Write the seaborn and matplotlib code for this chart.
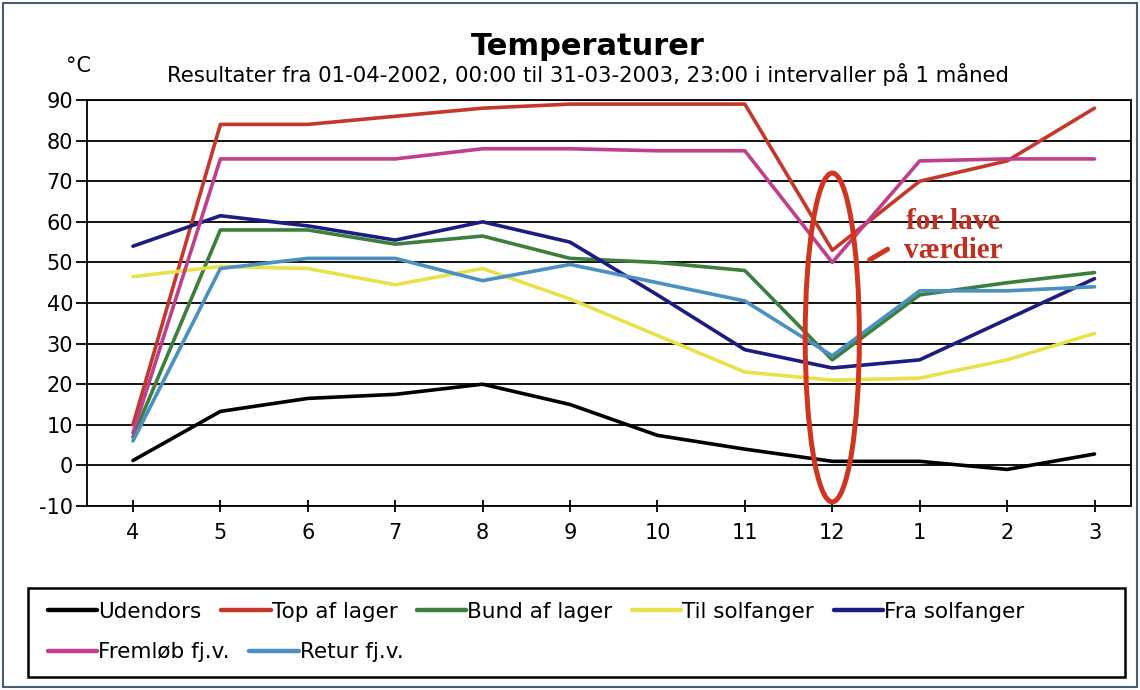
import numpy as np
import pandas as pd
import matplotlib
matplotlib.use("Agg")
import matplotlib.pyplot as plt
from matplotlib.patches import Ellipse, Rectangle
import seaborn as sns

months = ["4", "5", "6", "7", "8", "9", "10", "11", "12", "1", "2", "3"]
udendors = [1.2, 13.3, 16.5, 17.5, 20.0, 15.0, 7.4, 4.0, 1.0, 1.0, -1.0, 2.8]
top_af_lager = [10, 84, 84, 86, 88, 89, 89, 89, 53, 70, 75, 88]
bund_af_lager = [7, 58, 58, 54.5, 56.5, 51, 50, 48, 26, 42, 45, 47.5]
til_solfanger = [46.5, 49, 48.5, 44.5, 48.5, 41, 32, 23, 21, 21.5, 26, 32.5]
fra_solfanger = [54, 61.5, 59, 55.5, 60, 55, 42, 28.5, 24, 26, 36, 46]
fremlob = [8, 75.5, 75.5, 75.5, 78, 78, 77.5, 77.5, 50, 75, 75.5, 75.5]
retur = [6, 48.5, 51, 51, 45.5, 49.5, 45, 40.5, 27, 43, 43, 44]

series_names = ["Udendors", "Top af lager", "Bund af lager", "Til solfanger",
                "Fra solfanger", "Fremløb fj.v.", "Retur fj.v."]
series_vals = [udendors, top_af_lager, bund_af_lager, til_solfanger,
               fra_solfanger, fremlob, retur]
colors = ["#000000", "#c5372b", "#3c7f3c", "#e8e24a", "#1c1c82", "#bf3f8a", "#4a90c0"]

rows = []
for name, vals in zip(series_names, series_vals):
    for i, v in enumerate(vals):
        rows.append({"idx": i, "Temperatur": v, "Serie": name})
df = pd.DataFrame(rows)

sns.set_theme(style="white")
plt.rcParams["font.family"] = ["DejaVu Sans"]
plt.rcParams["axes.unicode_minus"] = False
plt.rcParams["text.color"] = "black"
plt.rcParams["xtick.color"] = "black"
plt.rcParams["ytick.color"] = "black"
plt.rcParams["xtick.labelcolor"] = "black"
plt.rcParams["ytick.labelcolor"] = "black"

fig = plt.figure(figsize=(11.4, 6.9), dpi=100)
ax = fig.add_axes([0.0763, 0.2667, 0.916, 0.5883])

sns.lineplot(data=df, x="idx", y="Temperatur", hue="Serie",
             hue_order=series_names, palette=dict(zip(series_names, colors)),
             linewidth=2.6, ax=ax, legend=True, sort=False)

ax.set_xlim(-0.526, 11.42)
ax.set_ylim(-10, 90)
ax.set_yticks(np.arange(-10, 91, 10))
ax.set_xticks(range(len(months)))
ax.set_xticklabels(months)
ax.tick_params(axis="y", labelsize=15, length=8, direction="out",
               color="black", labelcolor="black", width=1.3, left=True, pad=2)
ax.tick_params(axis="x", labelsize=15, length=9, direction="inout",
               color="black", labelcolor="black", width=1.3, bottom=True, pad=8)
ax.yaxis.grid(True, color="black", linewidth=1.3)
ax.xaxis.grid(False)
ax.set_axisbelow(True)
for s in ax.spines.values():
    s.set_color("black")
    s.set_linewidth(1.3)
ax.set_xlabel("")
ax.set_ylabel("")

# Legend (two flowing rows)
handles, labels = ax.get_legend_handles_labels()
ax.legend_.remove()
leg_kw = dict(frameon=False, fontsize=15.5, handlelength=2.3, handletextpad=0.05,
              columnspacing=0.9, borderpad=0, borderaxespad=0, loc="center left",
              labelcolor="black")
leg1 = fig.legend(handles[:5], labels[:5], ncol=5,
                  bbox_to_anchor=(0.042, 0.113), **leg_kw)
leg2 = fig.legend(handles[5:], labels[5:], ncol=2,
                  bbox_to_anchor=(0.042, 0.055), **leg_kw)
for lg in (leg1, leg2):
    for h in lg.legend_handles:
        h.set_linewidth(3.2)
fig.patches.append(Rectangle((0.0245, 0.019), 0.962, 0.129, transform=fig.transFigure,
                             fill=False, edgecolor="black", linewidth=1.8))

# Outer figure border
fig.patches.append(Rectangle((0.003, 0.004), 0.994, 0.992, transform=fig.transFigure,
                             fill=False, edgecolor="#4a5a7a", linewidth=1.5))

# Titles
fig.text(0.516, 0.933, "Temperaturer", ha="center", va="center",
         fontsize=22, fontweight="bold", color="black")
fig.text(0.516, 0.892, "Resultater fra 01-04-2002, 00:00 til 31-03-2003, 23:00 i intervaller på 1 måned",
         ha="center", va="center", fontsize=15.3, color="black")
fig.text(0.058, 0.905, "°C", ha="left", va="center", fontsize=15, color="black")

# Annotation ellipse
ell = Ellipse((8, 31.5), width=0.62, height=81, fill=False,
              edgecolor="#d03520", linewidth=3.6, zorder=5)
ax.add_patch(ell)
ax.annotate("", xy=(8.40, 50.3), xytext=(8.66, 53.6),
            arrowprops=dict(arrowstyle="-", color="#d03520", lw=3.6))
ax.text(9.38, 56.5, "for lave\nværdier", ha="center", va="center",
        fontsize=21, fontweight="bold", color="#c03020",
        family=["Liberation Serif", "DejaVu Serif"], linespacing=1.1)

fig.savefig("out.png", dpi=100)
